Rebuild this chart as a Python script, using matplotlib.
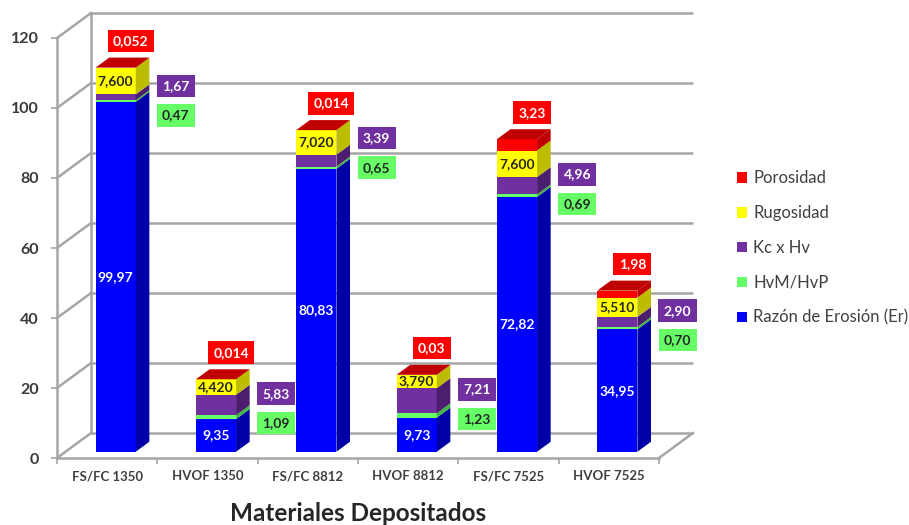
import matplotlib
matplotlib.use("Agg")
import matplotlib.pyplot as plt
from matplotlib.patches import Polygon, Patch

plt.rcParams['font.family'] = ['Lato', 'DejaVu Sans']

# ---- data ----
categories = ["FS/FC 1350", "HVOF 1350", "FS/FC 8812", "HVOF 8812", "FS/FC 7525", "HVOF 7525"]
razon_erosion = [99.97, 9.35, 80.83, 9.73, 72.82, 34.95]
hvm_hvp = [0.47, 1.09, 0.65, 1.23, 0.69, 0.70]
kc_hv = [1.67, 5.83, 3.39, 7.21, 4.96, 2.90]
rugosidad = [7.600, 4.420, 7.020, 3.790, 7.600, 5.510]
porosidad = [0.052, 0.014, 0.014, 0.03, 3.23, 1.98]

# label strings (comma decimal, as printed on the chart)
razon_txt = ["99,97", "9,35", "80,83", "9,73", "72,82", "34,95"]
hvm_txt = ["0,47", "1,09", "0,65", "1,23", "0,69", "0,70"]
kc_txt = ["1,67", "5,83", "3,39", "7,21", "4,96", "2,90"]
rug_txt = ["7,600", "4,420", "7,020", "3,790", "7,600", "5,510"]
por_txt = ["0,052", "0,014", "0,014", "0,03", "3,23", "1,98"]

series_names = ["Razón de Erosión (Er)", "HvM/HvP", "Kc x Hv", "Rugosidad", "Porosidad"]
series_vals = [razon_erosion, hvm_hvp, kc_hv, rugosidad, porosidad]
face_cols = ["#0000FF", "#66FF66", "#7030A0", "#FFFF00", "#FF0000"]
side_cols = ["#0000A6", "#3FB83F", "#4B1F6E", "#BDBD00", "#C00000"]
top_col = "#C00000"

yticks = [0, 20, 40, 60, 80, 100, 120]

# vertical nudge (value units) for the Kc x Hv / HvM/HvP callouts
callout_shift = [0, 0, -3.2, 0, 0, 0]

# ---- figure / front plane axes ----
W, H = 909, 525
fig = plt.figure(figsize=(W / 100, H / 100), dpi=100)
ax = fig.add_axes([57 / W, 67 / H, 602 / W, 420 / H])
ax.set_xlim(-0.5, 5.5)
ax.set_ylim(0, 120)

# oblique depth vector (category units, value units)
DX, DY = 0.339, 7.14
grid_c = "#A6A6A6"
glw = 1.8

# back wall + left wall grid lines
x0, x1 = -0.5, 5.5
for v in yticks:
    ax.plot([x0 + DX, x1 + DX], [v + DY, v + DY], color=grid_c, lw=glw,
            clip_on=False, zorder=1, solid_capstyle='butt')
    ax.plot([x0, x0 + DX], [v, v + DY], color=grid_c, lw=glw, clip_on=False, zorder=1)
ax.plot([x0 + DX, x0 + DX], [DY, 120 + DY], color=grid_c, lw=glw, clip_on=False, zorder=1)
# right floor edge
ax.plot([x1, x1 + DX], [0, DY], color=grid_c, lw=glw, clip_on=False, zorder=1)

# ---- 3D stacked columns ----
f_front = 0.25   # depth of the column's front face
d_col = 0.40     # column depth
bw = 0.40        # column width
xs = [i + f_front * DX for i in range(len(categories))]
base = f_front * DY
ddx, ddy = d_col * DX, d_col * DY

bottoms = [base] * len(categories)
seg_bounds = []
for s, vals in enumerate(series_vals):
    ax.bar(xs, vals, width=bw, bottom=bottoms, color=face_cols[s], zorder=3,
           linewidth=0)
    bounds = []
    for i, v in enumerate(vals):
        b = bottoms[i]
        t = b + v
        xr = xs[i] + bw / 2
        ax.add_patch(Polygon([(xr, b), (xr + ddx, b + ddy), (xr + ddx, t + ddy), (xr, t)],
                             closed=True, fc=side_cols[s], ec='none', zorder=3))
        bounds.append((b, t))
    seg_bounds.append(bounds)
    bottoms = [b + v for b, v in zip(bottoms, vals)]

# top faces
for i, top in enumerate(bottoms):
    xl, xr = xs[i] - bw / 2, xs[i] + bw / 2
    ax.add_patch(Polygon([(xl, top), (xr, top), (xr + ddx, top + ddy), (xl + ddx, top + ddy)],
                         closed=True, fc=top_col, ec='none', zorder=3))

# ---- data labels ----
lab_fs = 10
dark = "#262626"
box = 'square,pad=0.38'
for i in range(len(categories)):
    b, t = seg_bounds[0][i]
    ax.text(xs[i], (b + t) / 2, razon_txt[i], ha='center', va='center', color='white',
            fontsize=lab_fs, fontweight='bold', zorder=5)
    b, t = seg_bounds[3][i]
    ax.text(xs[i], (b + t) / 2, rug_txt[i], ha='center', va='center', color=dark,
            fontsize=lab_fs, fontweight='bold', zorder=5)
    top = bottoms[i]
    ax.text(xs[i] + 0.15, top + 7.6, por_txt[i], ha='center', va='center', color='white',
            fontsize=lab_fs, fontweight='bold', zorder=5,
            bbox=dict(boxstyle=box, fc='#FF0000', ec='none'))
    b, t = seg_bounds[2][i]
    ky = (b + t) / 2 + 0.45 * DY - callout_shift[i]
    ax.text(xs[i] + 0.6, ky, kc_txt[i], ha='center', va='center', color='white',
            fontsize=lab_fs, fontweight='bold', zorder=5,
            bbox=dict(boxstyle=box, fc='#7030A0', ec='none'))
    ax.text(xs[i] + 0.6, ky - 8.4, hvm_txt[i], ha='center', va='center', color=dark,
            fontsize=lab_fs, fontweight='bold', zorder=5,
            bbox=dict(boxstyle=box, fc='#66FF66', ec='none'))

# ---- axes styling ----
for sp in ['top', 'right']:
    ax.spines[sp].set_visible(False)
for sp in ['left', 'bottom']:
    ax.spines[sp].set_color(grid_c)
    ax.spines[sp].set_linewidth(glw)
    ax.spines[sp].set_zorder(2)
ax.set_facecolor('none')
ax.set_yticks(yticks)
ax.set_yticklabels([str(v) for v in yticks], fontsize=11.5, fontweight='bold', color='#3A3A3A')
ax.tick_params(axis='y', length=4, width=1.2, color=grid_c, pad=9)
ax.set_xticks(range(len(categories)))
ax.set_xticklabels(categories, fontsize=9.5, fontweight='bold', color='#404040')
ax.tick_params(axis='x', which='major', length=0, pad=9)
ax.set_xticks([k - 0.5 for k in range(len(categories) + 1)], minor=True)
ax.tick_params(axis='x', which='minor', length=4, width=1.2, color=grid_c)
ax.set_xlabel("Materiales Depositados", fontsize=17.5, fontweight='bold', color='#262626',
              labelpad=14)

# ---- legend ----
handles = [Patch(fc=face_cols[s], ec='none') for s in range(4, -1, -1)]
labels = [series_names[s] for s in range(4, -1, -1)]
fig.legend(handles, labels, loc='upper left', bbox_to_anchor=(729 / W, 1 - 162 / H),
           frameon=False, fontsize=12, labelspacing=1.13, handlelength=0.6,
           handleheight=0.6, handletextpad=0.35, borderpad=0, labelcolor='#404040')

fig.savefig("out.png", dpi=100)
